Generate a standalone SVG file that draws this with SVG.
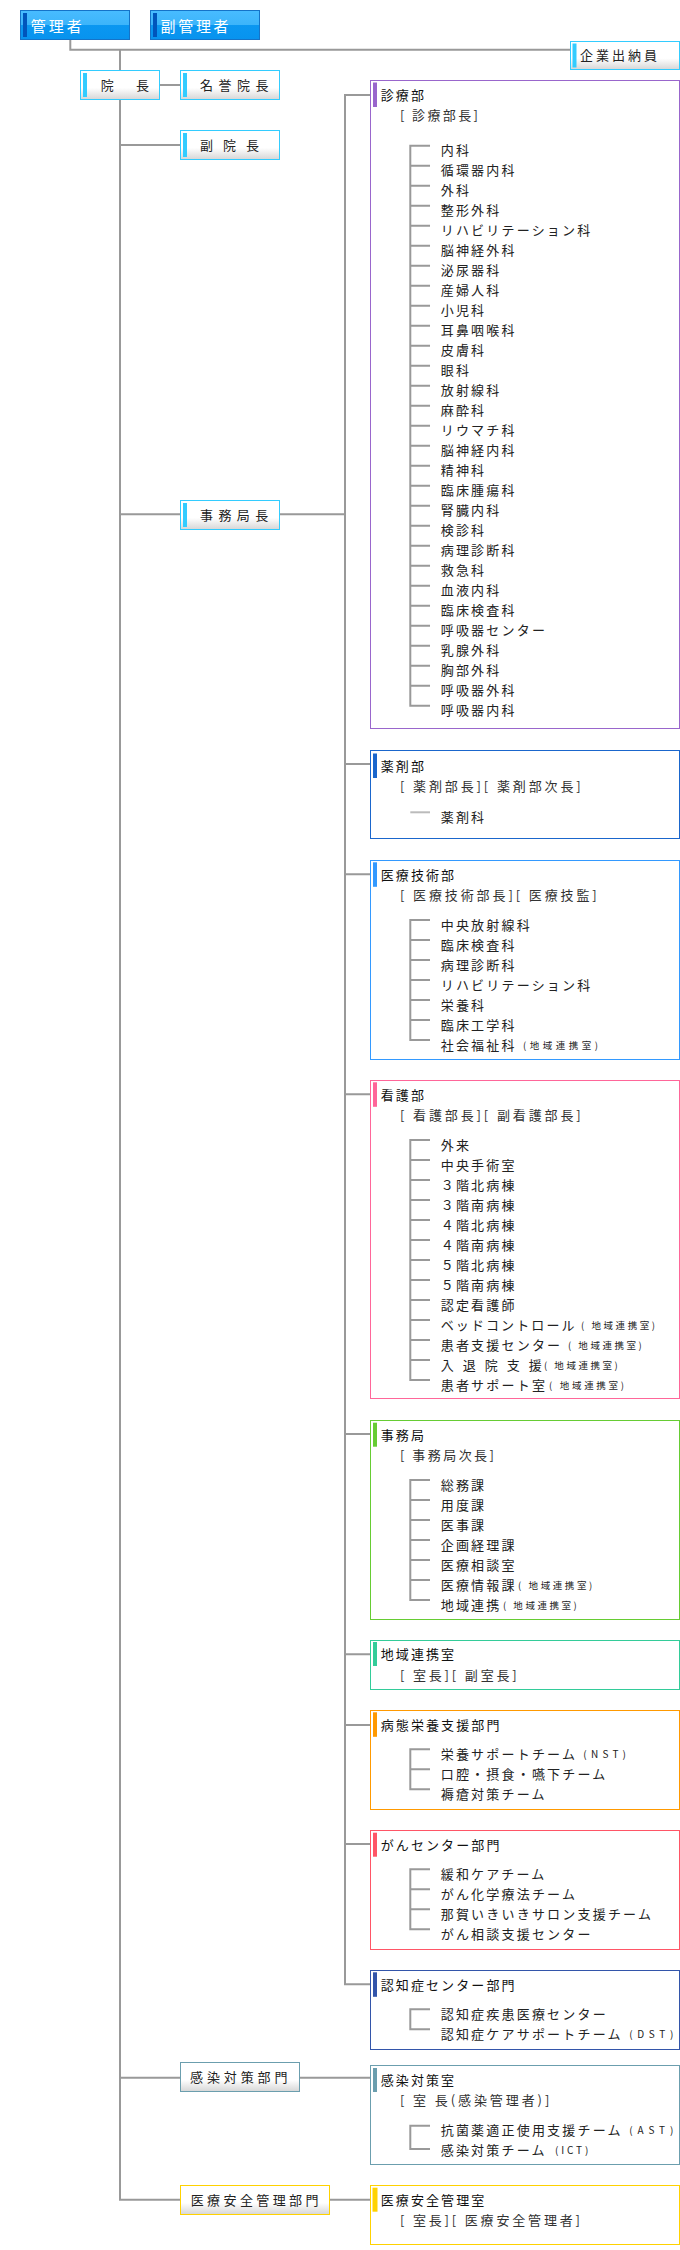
<svg xmlns="http://www.w3.org/2000/svg" width="680" height="2250" viewBox="0 0 680 2250">
<defs>
<linearGradient id="gW" x1="0" y1="0" x2="0" y2="1"><stop offset="0" stop-color="#ffffff"/><stop offset="0.6" stop-color="#ffffff"/><stop offset="1" stop-color="#d6d6d6"/></linearGradient>
<linearGradient id="gB" x1="0" y1="0" x2="0" y2="1"><stop offset="0" stop-color="#48bcff"/><stop offset="0.5" stop-color="#3cb4fa"/><stop offset="0.5" stop-color="#0a97f1"/><stop offset="1" stop-color="#0893ee"/></linearGradient>
<style>
text{font-family:"Noto Sans CJK JP","Noto Sans",sans-serif;font-size:13px;fill:#222}
.wt{fill:#ffffff;font-size:15px;letter-spacing:3px}
.ttl{fill:#111;letter-spacing:2.1px}
.hd{fill:#333}
.it{letter-spacing:2.2px}
.sm{font-size:9.5px}
.lt{font-size:10px}
.bx{fill:#ffffff;stroke-width:1}
.sb{fill:url(#gW);stroke-width:1}
.tk{fill:none;stroke:#999999;stroke-width:2}
.cn{fill:none;stroke:#999999;stroke-width:2}
</style>
</defs>
<rect width="680" height="2250" fill="#ffffff"/>

<g id="connectors" class="cn">
<path d="M70.3 39.5V49.7H570.5"/>
<path d="M120 49.7V70.5"/>
<path d="M120 99.5V2199.7H180.5"/>
<path d="M159.5 85H180.5"/>
<path d="M120 145H180.5"/>
<path d="M120 514.3H180.5M279.5 514.3H345"/>
<path d="M370.5 95H345V1984.3H370.5"/>
<path d="M345 764H370.5M345 874.3H370.5M345 1094.3H370.5M345 1434H370.5M345 1654.3H370.5M345 1725H370.5M345 1844H370.5"/>
<path d="M120 2077.7H180.5M299.5 2077.7H370.5"/>
<path d="M329.5 2199.7H370.5"/>
</g>

<g id="n-kanrisha">
<rect x="20.5" y="10.5" width="109" height="29" fill="url(#gB)" stroke="#1573c8"/>
<rect x="23" y="13" width="4" height="24" fill="#0055bb"/>
<text class="wt" x="30.7" y="31.5">管理者</text>
</g>
<g id="n-fukukanrisha">
<rect x="150.5" y="10.5" width="109" height="29" fill="url(#gB)" stroke="#1573c8"/>
<rect x="153" y="13" width="4" height="24" fill="#0055bb"/>
<text class="wt" x="160.5" y="31.5" style="letter-spacing:2.7px">副管理者</text>
</g>
<g id="n-kigyo">
<rect class="sb" x="570.5" y="41.5" width="109" height="28" stroke="#33ccff"/>
<rect x="572.5" y="43.5" width="4" height="24" fill="#33ccff"/>
<text x="580" y="59.5" style="letter-spacing:3px">企業出納員</text>
</g>
<g id="n-incho">
<rect class="sb" x="80.5" y="70.5" width="79" height="29" stroke="#33ccff"/>
<rect x="83" y="73" width="4" height="24" fill="#33ccff"/>
<text x="100.7" y="90" style="letter-spacing:4.65px">院　長</text>
</g>
<g id="n-meiyo">
<rect class="sb" x="180.5" y="70.5" width="99" height="29" stroke="#33ccff"/>
<rect x="183" y="73" width="4" height="24" fill="#33ccff"/>
<text x="200" y="90" style="letter-spacing:5.5px">名誉院長</text>
</g>
<g id="n-fukuincho">
<rect class="sb" x="180.5" y="130.5" width="99" height="29" stroke="#33ccff"/>
<rect x="183" y="133" width="4" height="24" fill="#33ccff"/>
<text x="200" y="150" style="letter-spacing:10px">副院長</text>
</g>
<g id="n-jimukyokucho">
<rect class="sb" x="180.5" y="500.5" width="99" height="29" stroke="#33ccff"/>
<rect x="183" y="503" width="4" height="24" fill="#33ccff"/>
<text x="200" y="520" style="letter-spacing:5.4px">事務局長</text>
</g>
<g id="n-kansen-bumon">
<rect class="sb" x="180.5" y="2062.5" width="119" height="29" stroke="#6b9eae"/>
<text x="190" y="2082.3" style="letter-spacing:3.9px">感染対策部門</text>
</g>
<g id="n-anzen-bumon">
<rect class="sb" x="180.5" y="2185.5" width="149" height="29" stroke="#ffd200"/>
<text x="190.7" y="2205" style="letter-spacing:3.4px">医療安全管理部門</text>
</g>

<g id="n-shinryo">
<rect class="bx" x="370.5" y="80.5" width="309" height="648" stroke="#9966cc"/>
<rect x="373" y="82.5" width="4" height="24.5" fill="#9966cc"/>
<text class="ttl" x="380.7" y="99.5">診療部</text>
<text class="hd" x="400" y="119.5" textLength="78" lengthAdjust="spacing">[ 診療部長]</text>
<path class="tk" d="M430 145.7H410.3V705.7H430M410.3 165.7H430M410.3 185.7H430M410.3 205.7H430M410.3 225.7H430M410.3 245.7H430M410.3 265.7H430M410.3 285.7H430M410.3 305.7H430M410.3 325.7H430M410.3 345.7H430M410.3 365.7H430M410.3 385.7H430M410.3 405.7H430M410.3 425.7H430M410.3 445.7H430M410.3 465.7H430M410.3 485.7H430M410.3 505.7H430M410.3 525.7H430M410.3 545.7H430M410.3 565.7H430M410.3 585.7H430M410.3 605.7H430M410.3 625.7H430M410.3 645.7H430M410.3 665.7H430M410.3 685.7H430"/>
<text class="it">
<tspan x="440.7" y="155">内科</tspan>
<tspan x="440.7" y="175">循環器内科</tspan>
<tspan x="440.7" y="195">外科</tspan>
<tspan x="440.7" y="215">整形外科</tspan>
<tspan x="440.7" y="235">リハビリテーション科</tspan>
<tspan x="440.7" y="255">脳神経外科</tspan>
<tspan x="440.7" y="275">泌尿器科</tspan>
<tspan x="440.7" y="295">産婦人科</tspan>
<tspan x="440.7" y="315">小児科</tspan>
<tspan x="440.7" y="335">耳鼻咽喉科</tspan>
<tspan x="440.7" y="355">皮膚科</tspan>
<tspan x="440.7" y="375">眼科</tspan>
<tspan x="440.7" y="395">放射線科</tspan>
<tspan x="440.7" y="415">麻酔科</tspan>
<tspan x="440.7" y="435">リウマチ科</tspan>
<tspan x="440.7" y="455">脳神経内科</tspan>
<tspan x="440.7" y="475">精神科</tspan>
<tspan x="440.7" y="495">臨床腫瘍科</tspan>
<tspan x="440.7" y="515">腎臓内科</tspan>
<tspan x="440.7" y="535">検診科</tspan>
<tspan x="440.7" y="555">病理診断科</tspan>
<tspan x="440.7" y="575">救急科</tspan>
<tspan x="440.7" y="595">血液内科</tspan>
<tspan x="440.7" y="615">臨床検査科</tspan>
<tspan x="440.7" y="635">呼吸器センター</tspan>
<tspan x="440.7" y="655">乳腺外科</tspan>
<tspan x="440.7" y="675">胸部外科</tspan>
<tspan x="440.7" y="695">呼吸器外科</tspan>
<tspan x="440.7" y="715">呼吸器内科</tspan>
</text>
</g>

<g id="n-yakuzai">
<rect class="bx" x="370.5" y="750.5" width="309" height="88" stroke="#1a66cc"/>
<rect x="373" y="753.5" width="4" height="24.5" fill="#1a66cc"/>
<text class="ttl" x="380.7" y="771">薬剤部</text>
<text class="hd" x="400" y="791" textLength="180.7" lengthAdjust="spacing">[ 薬剤部長][ 薬剤部次長]</text>
<path d="M410.3 812.3H430" fill="none" stroke="#bbbbbb" stroke-width="2"/>
<text class="it" x="440.7" y="821.5">薬剤科</text>
</g>

<g id="n-iryogijutsu">
<rect class="bx" x="370.5" y="860.5" width="309" height="199" stroke="#3399ff"/>
<rect x="373" y="862.3" width="4" height="24.5" fill="#3399ff"/>
<text class="ttl" x="380.7" y="879.5">医療技術部</text>
<text class="hd" x="400" y="899.5" textLength="196.7" lengthAdjust="spacing">[ 医療技術部長][ 医療技監]</text>
<path class="tk" d="M430 920H410.3V1040H430M410.3 940H430M410.3 960H430M410.3 980H430M410.3 1000H430M410.3 1020H430"/>
<text class="it">
<tspan x="440.7" y="929.5">中央放射線科</tspan>
<tspan x="440.7" y="949.5">臨床検査科</tspan>
<tspan x="440.7" y="969.5">病理診断科</tspan>
<tspan x="440.7" y="989.5">リハビリテーション科</tspan>
<tspan x="440.7" y="1009.5">栄養科</tspan>
<tspan x="440.7" y="1029.5">臨床工学科</tspan>
<tspan x="440.7" y="1049.5">社会福祉科</tspan>
</text>
<text class="sm" x="523" y="1048.5" textLength="75" lengthAdjust="spacing">(地域連携室)</text>
</g>

<g id="n-kango">
<rect class="bx" x="370.5" y="1080.5" width="309" height="318" stroke="#ff6699"/>
<rect x="373" y="1082.3" width="4" height="24.5" fill="#ff6699"/>
<text class="ttl" x="380.7" y="1099.5">看護部</text>
<text class="hd" x="400" y="1119.5" textLength="180.7" lengthAdjust="spacing">[ 看護部長][ 副看護部長]</text>
<path class="tk" d="M430 1140H410.3V1380H430M410.3 1160H430M410.3 1180H430M410.3 1200H430M410.3 1220H430M410.3 1240H430M410.3 1260H430M410.3 1280H430M410.3 1300H430M410.3 1320H430M410.3 1340H430M410.3 1360H430"/>
<text class="it">
<tspan x="440.7" y="1149.5">外来</tspan>
<tspan x="440.7" y="1169.5">中央手術室</tspan>
<tspan x="440.7" y="1189.5">３階北病棟</tspan>
<tspan x="440.7" y="1209.5">３階南病棟</tspan>
<tspan x="440.7" y="1229.5">４階北病棟</tspan>
<tspan x="440.7" y="1249.5">４階南病棟</tspan>
<tspan x="440.7" y="1269.5">５階北病棟</tspan>
<tspan x="440.7" y="1289.5">５階南病棟</tspan>
<tspan x="440.7" y="1309.5">認定看護師</tspan>
</text>
<text class="it" x="440.7" y="1329.5" textLength="136" lengthAdjust="spacing">ベッドコントロール</text>
<text class="sm" x="581" y="1328.5" textLength="74" lengthAdjust="spacing">( 地域連携室)</text>
<text class="it" x="440.7" y="1349.5">患者支援センター</text>
<text class="sm" x="568" y="1348.5" textLength="73.7" lengthAdjust="spacing">( 地域連携室)</text>
<text x="440.7 462.7 484.7 506.7 528.7" y="1369.5">入退院支援</text>
<text class="sm" x="544" y="1368.5" textLength="73.7" lengthAdjust="spacing">( 地域連携室)</text>
<text class="it" x="440.7" y="1389.5">患者サポート室</text>
<text class="sm" x="549" y="1388.5" textLength="75" lengthAdjust="spacing">( 地域連携室)</text>
</g>

<g id="n-jimukyoku">
<rect class="bx" x="370.5" y="1420.5" width="309" height="199" stroke="#66cc33"/>
<rect x="373" y="1422.7" width="4" height="24" fill="#66cc33"/>
<text class="ttl" x="380.7" y="1439.5">事務局</text>
<text class="hd" x="400" y="1459.5" textLength="94" lengthAdjust="spacing">[ 事務局次長]</text>
<path class="tk" d="M430 1480H410.3V1600H430M410.3 1500H430M410.3 1520H430M410.3 1540H430M410.3 1560H430M410.3 1580H430"/>
<text class="it">
<tspan x="440.7" y="1489.5">総務課</tspan>
<tspan x="440.7" y="1509.5">用度課</tspan>
<tspan x="440.7" y="1529.5">医事課</tspan>
<tspan x="440.7" y="1549.5">企画経理課</tspan>
<tspan x="440.7" y="1569.5">医療相談室</tspan>
<tspan x="440.7" y="1589.5">医療情報課</tspan>
<tspan x="440.7" y="1609.5">地域連携</tspan>
</text>
<text class="sm" x="518" y="1588.5" textLength="74.3" lengthAdjust="spacing">( 地域連携室)</text>
<text class="sm" x="503" y="1608.5" textLength="73.7" lengthAdjust="spacing">( 地域連携室)</text>
</g>

<g id="n-chiiki">
<rect class="bx" x="370.5" y="1640.5" width="309" height="49" stroke="#33cc99"/>
<rect x="373" y="1642" width="4" height="24" fill="#33cc99"/>
<text class="ttl" x="380.7" y="1659">地域連携室</text>
<text class="hd" x="400" y="1679.5" textLength="116.7" lengthAdjust="spacing">[ 室長][ 副室長]</text>
</g>

<g id="n-eiyo">
<rect class="bx" x="370.5" y="1710.5" width="309" height="99" stroke="#ff9900"/>
<rect x="373" y="1712.3" width="4" height="24.5" fill="#ff9900"/>
<text class="ttl" x="380.7" y="1729.5">病態栄養支援部門</text>
<path class="tk" d="M430 1749.3H410.3V1789.3H430M410.3 1769.3H430"/>
<text class="it">
<tspan x="440.7" y="1759">栄養サポートチーム</tspan>
<tspan x="440.7" y="1779">口腔・摂食・嚥下チーム</tspan>
<tspan x="440.7" y="1799">褥瘡対策チーム</tspan>
</text>
<text class="lt" x="583.3" y="1758" textLength="42.7" lengthAdjust="spacing">(NST)</text>
</g>

<g id="n-gan">
<rect class="bx" x="370.5" y="1830.5" width="309" height="119" stroke="#ff5566"/>
<rect x="373" y="1832.7" width="4" height="24" fill="#ff5566"/>
<text class="ttl" x="380.7" y="1849.5">がんセンター部門</text>
<path class="tk" d="M430 1869.3H410.3V1929.3H430M410.3 1889.3H430M410.3 1909.3H430"/>
<text class="it">
<tspan x="440.7" y="1879">緩和ケアチーム</tspan>
<tspan x="440.7" y="1899">がん化学療法チーム</tspan>
<tspan x="440.7" y="1919">那賀いきいきサロン支援チーム</tspan>
<tspan x="440.7" y="1939">がん相談支援センター</tspan>
</text>
</g>

<g id="n-ninchi">
<rect class="bx" x="370.5" y="1970.5" width="309" height="79" stroke="#3355aa"/>
<rect x="373" y="1972.3" width="4" height="24.5" fill="#3355aa"/>
<text class="ttl" x="380.7" y="1989.5">認知症センター部門</text>
<path class="tk" d="M430 2009.3H410.3V2029.3H430"/>
<text class="it">
<tspan x="440.7" y="2019">認知症疾患医療センター</tspan>
<tspan x="440.7" y="2039">認知症ケアサポートチーム</tspan>
</text>
<text class="lt" x="629.3" y="2038" textLength="44" lengthAdjust="spacing">(DST)</text>
</g>

<g id="n-kansen">
<rect class="bx" x="370.5" y="2065.5" width="309" height="99" stroke="#6b9eae"/>
<rect x="373" y="2068" width="4" height="24" fill="#6b9eae"/>
<text class="ttl" x="380.7" y="2084.5">感染対策室</text>
<text class="hd" x="400" y="2104.5" textLength="149.3" lengthAdjust="spacing">[ 室 長(感染管理者)]</text>
<path class="tk" d="M430 2125.7H410.3V2149H430"/>
<text class="it">
<tspan x="440.7" y="2134.5">抗菌薬適正使用支援チーム</tspan>
<tspan x="440.7" y="2154.5">感染対策チーム</tspan>
</text>
<text class="lt" x="629.3" y="2133.5" textLength="44" lengthAdjust="spacing">(AST)</text>
<text class="lt" x="555" y="2153.5" textLength="33.3" lengthAdjust="spacing">(ICT)</text>
</g>

<g id="n-anzen">
<rect class="bx" x="370.5" y="2185.5" width="309" height="59" stroke="#ffd200"/>
<rect x="372.5" y="2187.7" width="5" height="24" fill="#ffd200"/>
<text class="ttl" x="380.7" y="2204.5">医療安全管理室</text>
<text class="hd" x="400" y="2224.5" textLength="180" lengthAdjust="spacing">[ 室長][ 医療安全管理者]</text>
</g>
</svg>
